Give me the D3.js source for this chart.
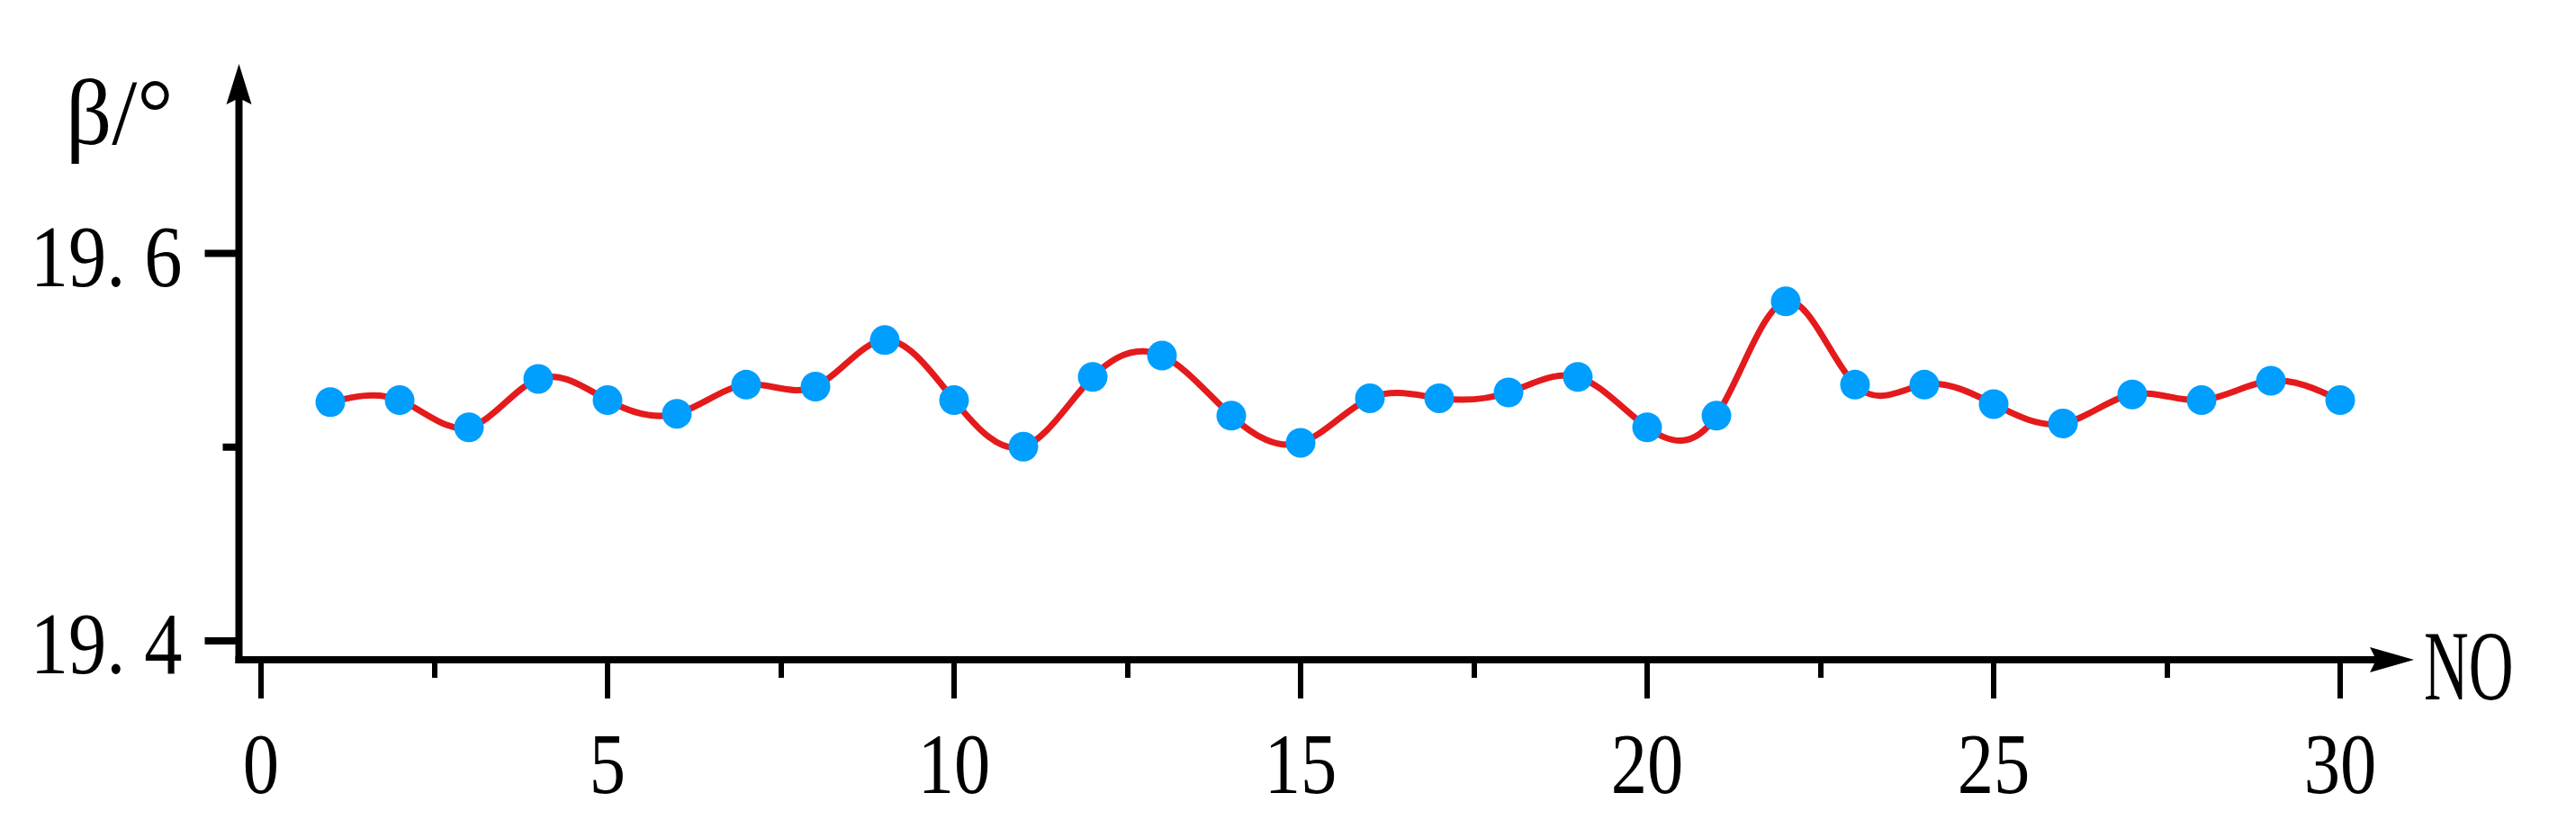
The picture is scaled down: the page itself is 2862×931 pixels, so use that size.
<!DOCTYPE html>
<html>
<head>
<meta charset="utf-8">
<script src="https://cdn.jsdelivr.net/npm/d3@7"></script>
<style>
  html, body { margin: 0; padding: 0; background: #fff; }
  svg { display: block; }
  text { font-family: "Liberation Serif", "Times New Roman", serif; fill: #000; }
</style>
</head>
<body>
<div id="main"></div>
<script>
// sample number and measured angle beta (deg)
var sampleNo = [1, 2, 3, 4, 5, 6, 7, 8, 9, 10, 11, 12, 13, 14, 15,
                16, 17, 18, 19, 20, 21, 22, 23, 24, 25, 26, 27, 28, 29, 30];
var betaValues = [19.523, 19.524, 19.510, 19.535, 19.524, 19.517, 19.532, 19.531, 19.555, 19.524,
                  19.500, 19.536, 19.547, 19.516, 19.502, 19.525, 19.525, 19.528, 19.536, 19.510,
                  19.516, 19.575, 19.532, 19.532, 19.522, 19.512, 19.527, 19.524, 19.534, 19.524];
var xMajorTicks = [0, 5, 10, 15, 20, 25, 30];
var xMinorTicks = [2.5, 7.5, 12.5, 17.5, 22.5, 27.5];
var yMajorTicks = [19.4, 19.6];
var yMinorTicks = [19.5];
var yLabel = "β/°";
var xLabel = "NO";

var width = 2862;
var height = 931;
var axisX = 265.5;   // where the vertical axis sits
var axisY = 733;     // where the horizontal axis sits

var svg = d3.select("#main")
    .append("svg")
    .attr("width", width)
    .attr("height", height);

svg.append("rect")
    .attr("width", width)
    .attr("height", height)
    .attr("fill", "#fff");

var x = d3.scaleLinear().domain([0, 30]).range([290, 2600]);
var y = d3.scaleLinear().domain([19.4, 19.6]).range([711.5, 281]);

function fmtY(d) {
    return d3.format(".1f")(d).replace(".", ". ");
}

// y axis: major ticks with labels, minor ticks without
var yMajor = svg.append("g")
    .attr("class", "y-major")
    .attr("transform", "translate(" + axisX + ",0)")
    .call(d3.axisLeft(y).tickValues(yMajorTicks).tickSize(38).tickFormat(fmtY));
var yMinor = svg.append("g")
    .attr("class", "y-minor")
    .attr("transform", "translate(" + axisX + ",0)")
    .call(d3.axisLeft(y).tickValues(yMinorTicks).tickSize(18).tickFormat(""));

var ySx = 0.87;
yMajor.selectAll("text")
    .attr("x", -63 / ySx)
    .attr("dy", 0)
    .attr("y", 36)
    .attr("transform", "scale(" + ySx + ",1)")
    .style("font-size", "97px");

// x axis
var xMajor = svg.append("g")
    .attr("class", "x-major")
    .attr("transform", "translate(0," + axisY + ")")
    .call(d3.axisBottom(x).tickValues(xMajorTicks).tickSize(43).tickFormat(d3.format("d")));
var xMinor = svg.append("g")
    .attr("class", "x-minor")
    .attr("transform", "translate(0," + axisY + ")")
    .call(d3.axisBottom(x).tickValues(xMinorTicks).tickSize(20).tickFormat(""));

var xSx = 0.84;
xMajor.selectAll(".tick").each(function(d) {
    var t = d3.select(this);
    t.attr("transform", "translate(" + x(d) + ",0) scale(" + xSx + ",1)");
    t.select("line").attr("stroke-width", 6 / xSx);
    t.select("text")
        .attr("y", 148)
        .attr("dy", 0)
        .style("font-size", "96px");
});
xMinor.selectAll(".tick line").attr("stroke-width", 6);

svg.selectAll(".domain").remove();
svg.selectAll(".y-major .tick line, .y-minor .tick line").attr("stroke-width", 8);
svg.selectAll(".tick line").attr("stroke", "#000");
svg.selectAll(".tick text").attr("fill", "#000");

// axis lines with arrow heads
svg.append("line")
    .attr("x1", axisX).attr("x2", axisX)
    .attr("y1", axisY + 4).attr("y2", 100)
    .attr("stroke", "#000").attr("stroke-width", 8);
svg.append("path")
    .attr("d", "M" + axisX + ",71 L" + (axisX + 14) + ",116 L" + axisX + ",109 L" + (axisX - 14) + ",116 Z")
    .attr("fill", "#000");

svg.append("line")
    .attr("x1", axisX - 4).attr("x2", 2650)
    .attr("y1", axisY).attr("y2", axisY)
    .attr("stroke", "#000").attr("stroke-width", 8);
svg.append("path")
    .attr("d", "M2682," + axisY + " L2633," + (axisY - 14) + " L2640," + axisY + " L2633," + (axisY + 14) + " Z")
    .attr("fill", "#000");

// axis titles
svg.append("text")
    .attr("transform", "translate(73,160) scale(0.97,1)")
    .style("font-size", "104px")
    .text(yLabel);

svg.append("text")
    .attr("transform", "translate(2693,777) scale(0.62,1)")
    .style("font-size", "111px")
    .text(xLabel);

// data line and markers
var points = sampleNo.map(function(n, i) { return {no: n, beta: betaValues[i]}; });

var line = d3.line()
    .x(function(d) { return x(d.no); })
    .y(function(d) { return y(d.beta); })
    .curve(d3.curveNatural);

svg.append("path")
    .datum(points)
    .attr("d", line)
    .attr("fill", "none")
    .attr("stroke", "#e41a1c")
    .attr("stroke-width", 7);

svg.selectAll(".dot")
    .data(points)
    .enter()
    .append("circle")
    .attr("class", "dot")
    .attr("cx", function(d) { return x(d.no); })
    .attr("cy", function(d) { return y(d.beta); })
    .attr("r", 16.5)
    .attr("fill", "#009eff");
</script>
</body>
</html>
